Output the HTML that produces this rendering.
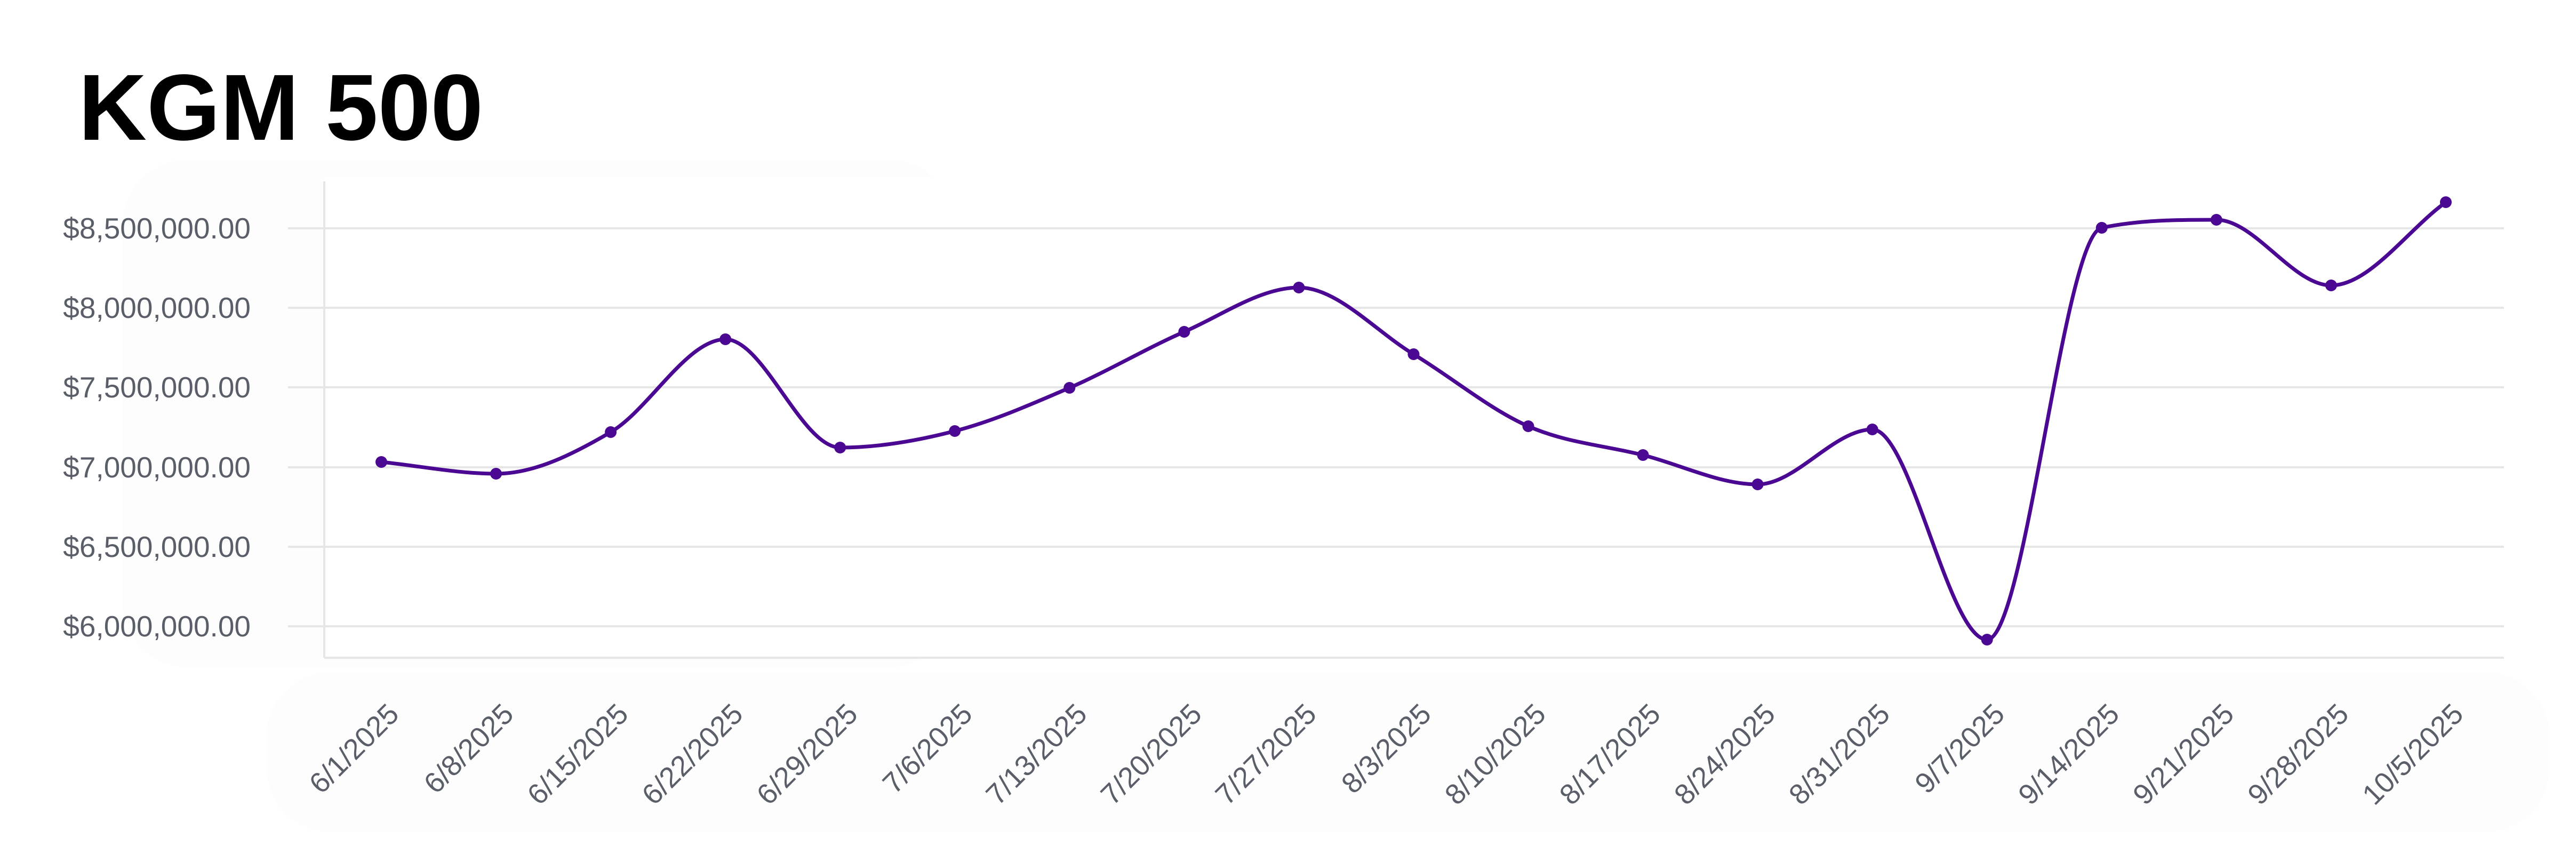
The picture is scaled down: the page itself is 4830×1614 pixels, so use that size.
<!DOCTYPE html>
<html><head><meta charset="utf-8"><style>
html,body{margin:0;padding:0;background:#fff;}
svg{display:block;}
</style></head><body>
<svg id="s" width="4830" height="1614" viewBox="0 0 4830 1614" xmlns="http://www.w3.org/2000/svg">
<rect width="4830" height="1614" fill="#fff"/>
<rect x="230" y="300" width="1560" height="950" rx="120" fill="#fdfdfd"/>
<rect x="500" y="1260" width="4280" height="300" rx="120" fill="#fdfdfd"/>
<rect x="608" y="330" width="4090" height="905" fill="#fff"/>
<text x="147" y="262" font-family="Liberation Sans, sans-serif" font-weight="bold" font-size="176" fill="#000" textLength="759" lengthAdjust="spacingAndGlyphs">KGM 500</text>
<g stroke="#e6e6e6" stroke-width="4">
<line x1="540" y1="428" x2="4695" y2="428"/>
<line x1="540" y1="577" x2="4695" y2="577"/>
<line x1="540" y1="726" x2="4695" y2="726"/>
<line x1="540" y1="876" x2="4695" y2="876"/>
<line x1="540" y1="1025" x2="4695" y2="1025"/>
<line x1="540" y1="1174" x2="4695" y2="1174"/>
<line x1="608" y1="1233" x2="4695" y2="1233"/>
<line x1="608" y1="340" x2="608" y2="1233"/>
</g>
<g font-family="Liberation Sans, sans-serif" font-size="55" fill="#5a5e68" text-anchor="end">
<text x="470" y="447">$8,500,000.00</text>
<text x="470" y="596">$8,000,000.00</text>
<text x="470" y="745">$7,500,000.00</text>
<text x="470" y="895">$7,000,000.00</text>
<text x="470" y="1044">$6,500,000.00</text>
<text x="470" y="1193">$6,000,000.00</text>
</g>
<g id="xl" font-family="Liberation Sans, sans-serif" font-size="54" fill="#5a5e68" text-anchor="end"></g>
<path id="ln" fill="none" stroke="#4b0892" stroke-width="7" stroke-linejoin="round"/>
<g id="pts" fill="#4b0892"></g>
</svg>
<script>
var labels=["6/1/2025","6/8/2025","6/15/2025","6/22/2025","6/29/2025","7/6/2025","7/13/2025","7/20/2025","7/27/2025","8/3/2025","8/10/2025","8/17/2025","8/24/2025","8/31/2025","9/7/2025","9/14/2025","9/21/2025","9/28/2025","10/5/2025"];
var ys=[866,888,810,636,839,808,727,622,539,664,799,853,908,805,1199,427,412,535,379];
var ns="http://www.w3.org/2000/svg";
var N=19,P=[];for(var i=0;i<N;i++)P.push([715+i*215.05,ys[i]]);
var xl=document.getElementById('xl'),pts=document.getElementById('pts');
for(var i=0;i<N;i++){
 var x=P[i][0]+36,y=1342;
 var t=document.createElementNS(ns,'text');t.setAttribute('x',x);t.setAttribute('y',y);
 t.setAttribute('transform','rotate(-45 '+x+' '+y+')');t.textContent=labels[i];xl.appendChild(t);
 var c=document.createElementNS(ns,'circle');c.setAttribute('cx',P[i][0]);c.setAttribute('cy',P[i][1]);c.setAttribute('r',11);pts.appendChild(c);
}
// monotone cubic (Fritsch-Carlson)
var h=215.05,dl=[],m=[];
for(var i=0;i<N-1;i++)dl.push((P[i+1][1]-P[i][1])/h);
m[0]=dl[0];m[N-1]=dl[N-2];
for(var i=1;i<N-1;i++){
 if(dl[i-1]*dl[i]<=0)m[i]=0;else m[i]=(dl[i-1]+dl[i])/2;
}
for(var i=0;i<N-1;i++){
 if(dl[i]===0){m[i]=0;m[i+1]=0;continue;}
 var a=m[i]/dl[i],b=m[i+1]/dl[i],s=a*a+b*b;
 if(s>9){var tt=3/Math.sqrt(s);m[i]=tt*a*dl[i];m[i+1]=tt*b*dl[i];}
}
var d='M'+P[0][0]+' '+P[0][1];
for(var i=0;i<N-1;i++){
 d+=' C'+(P[i][0]+h/3)+' '+(P[i][1]+m[i]*h/3)+' '+(P[i+1][0]-h/3)+' '+(P[i+1][1]-m[i+1]*h/3)+' '+P[i+1][0]+' '+P[i+1][1];
}
document.getElementById('ln').setAttribute('d',d);
</script>
</body></html>
